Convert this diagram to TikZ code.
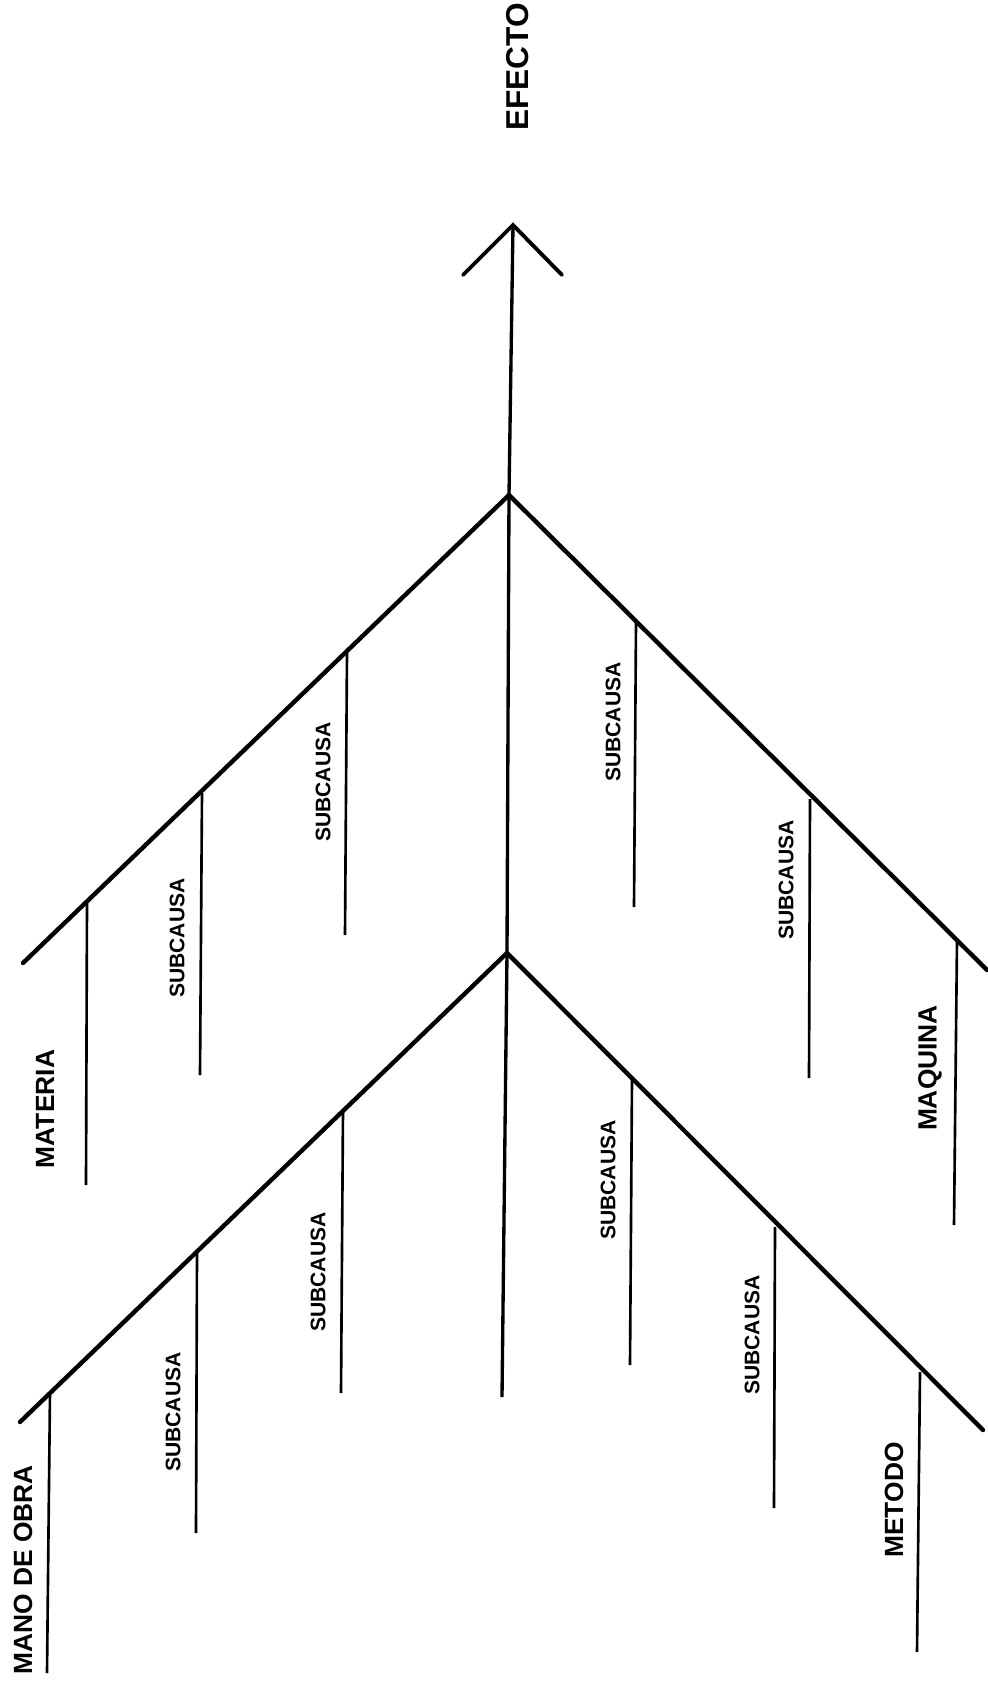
\documentclass[tikz,border=0pt]{standalone}
\usepackage{fontspec}
\setmainfont{Liberation Sans}
\usetikzlibrary{calc}

\tikzset{
  spine/.style={line width=1.9pt},
  arm/.style={line width=2.5pt, line cap=round},
  twig/.style={line width=1.5pt},
  efflbl/.style={font=\fontsize{18}{18}\selectfont\bfseries, rotate=90, inner sep=0pt},
  causelbl/.style={font=\fontsize{15}{15}\selectfont\bfseries, rotate=90, inner sep=0pt},
  sublbl/.style={font=\fontsize{12}{12}\selectfont\bfseries, rotate=90, inner sep=0pt},
}

\begin{document}
\begin{tikzpicture}[x=0.02cm, y=-0.02cm]

% Page frame (pixel units, origin top-left)
\useasboundingbox (0,0) rectangle (987,1683);

% ============================================================
% Spine and arrowhead
% ============================================================
\coordinate (tip)    at (513,225);
\coordinate (apexup) at (509,495);
\coordinate (apexlo) at (507,953);
\coordinate (tail)   at (502,1397);
\coordinate (headl)  at (463,275);
\coordinate (headr)  at (562,275);

\draw[spine] (tip) -- (apexup) -- (apexlo) -- (tail);
\draw[arm, line width=2.2pt] (headl) -- (tip) -- (headr);

\node[efflbl] (efecto) at (518,67) {EFECTO};

% ============================================================
% Upper V: Materia / Maquina
% ============================================================
\coordinate (ulend) at (23,963);
\coordinate (urend) at (987,970);
\draw[arm] (ulend) -- (apexup) -- (urend);

% left arm branches
\coordinate (ul1t) at (87,902);   \coordinate (ul1b) at (86,1185);
\coordinate (ul2t) at (202,793);  \coordinate (ul2b) at (200,1075);
\coordinate (ul3t) at (347,652);  \coordinate (ul3b) at (345,935);
\draw[twig] (ul1t) -- (ul1b);
\draw[twig] (ul2t) -- (ul2b);
\draw[twig] (ul3t) -- (ul3b);

% right arm branches
\coordinate (ur1t) at (636,622);  \coordinate (ur1b) at (634,907);
\coordinate (ur2t) at (810,799);  \coordinate (ur2b) at (809,1078);
\coordinate (ur3t) at (957,940);  \coordinate (ur3b) at (954,1225);
\draw[twig] (ur1t) -- (ur1b);
\draw[twig] (ur2t) -- (ur2b);
\draw[twig] (ur3t) -- (ur3b);

\node[causelbl] (materia) at (45,1109) {MATERIA};
\node[sublbl]   (subul1)  at (177,938) {SUBCAUSA};
\node[sublbl]   (subul2)  at (323,782) {SUBCAUSA};
\node[sublbl]   (subur1)  at (613,722) {SUBCAUSA};
\node[sublbl]   (subur2)  at (786,880) {SUBCAUSA};
\node[causelbl] (maquina) at (930,1068) {MAQUINA};

% ============================================================
% Lower V: Mano de obra / Metodo
% ============================================================
\coordinate (llend) at (20,1422);
\coordinate (lrend) at (983,1430);
\draw[arm] (llend) -- (apexlo) -- (lrend);

% left arm branches
\coordinate (ll1t) at (50,1392);  \coordinate (ll1b) at (47,1673);
\coordinate (ll2t) at (197,1252); \coordinate (ll2b) at (196,1533);
\coordinate (ll3t) at (343,1110); \coordinate (ll3b) at (341,1393);
\draw[twig] (ll1t) -- (ll1b);
\draw[twig] (ll2t) -- (ll2b);
\draw[twig] (ll3t) -- (ll3b);

% right arm branches
\coordinate (lr1t) at (632,1079); \coordinate (lr1b) at (630,1365);
\coordinate (lr2t) at (775,1227); \coordinate (lr2b) at (774,1508);
\coordinate (lr3t) at (920,1372); \coordinate (lr3b) at (917,1652);
\draw[twig] (lr1t) -- (lr1b);
\draw[twig] (lr2t) -- (lr2b);
\draw[twig] (lr3t) -- (lr3b);

\node[causelbl] (manobra) at (23,1570)  {MANO DE OBRA};
\node[sublbl]   (subll1)  at (173,1412) {SUBCAUSA};
\node[sublbl]   (subll2)  at (318,1272) {SUBCAUSA};
\node[sublbl]   (sublr1)  at (608,1180) {SUBCAUSA};
\node[sublbl]   (sublr2)  at (752,1335) {SUBCAUSA};
\node[causelbl] (metodo)  at (894,1500) {METODO};

\end{tikzpicture}
\end{document}
